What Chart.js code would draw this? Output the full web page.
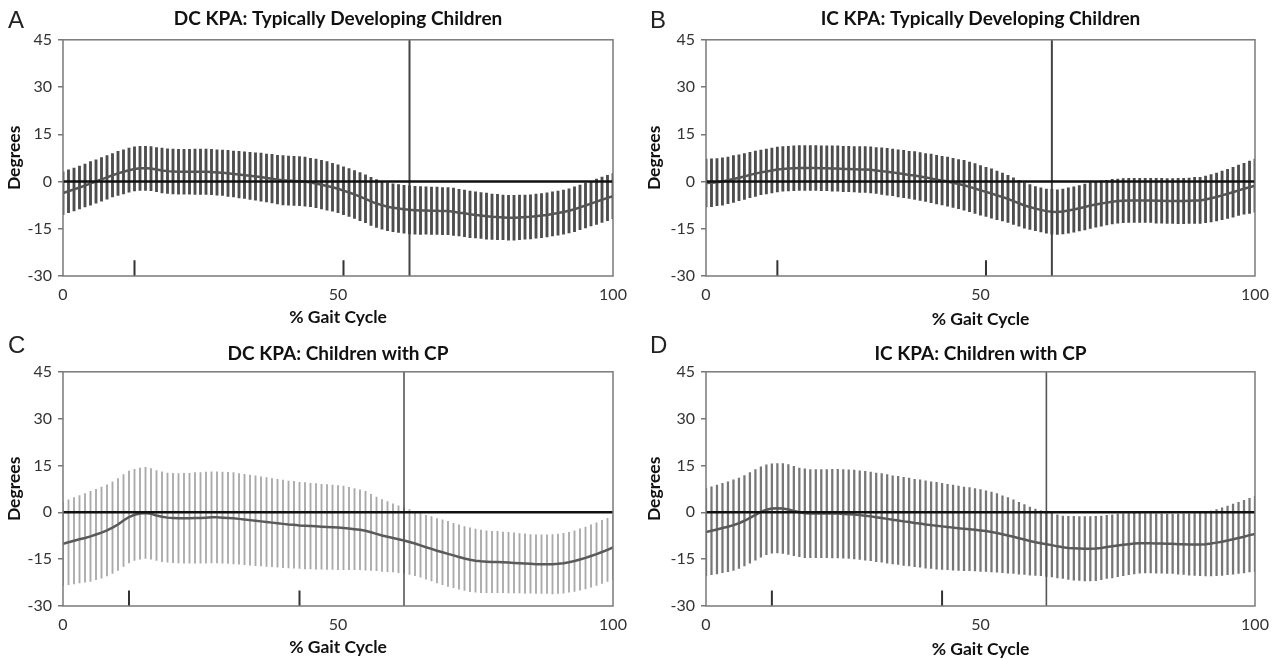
<!DOCTYPE html>
<html>
<head>
<meta charset="utf-8">
<script src="https://cdn.jsdelivr.net/npm/chart.js@4.4.1/dist/chart.umd.min.js"></script>
<style>
  body { margin: 0; background: #fff; width: 1279px; height: 659px; overflow: hidden; position: relative; }
  .panel { position: absolute; width: 640px; height: 330px; }
  .letter { position: absolute; font: 24px "Liberation Sans", Arial, sans-serif; color: #222; line-height: 1; }
</style>
</head>
<body>
<div class="panel" style="left:0;top:0"><canvas id="chartA" width="640" height="330"></canvas></div>
<div class="panel" style="left:640px;top:0"><canvas id="chartB" width="640" height="330"></canvas></div>
<div class="panel" style="left:0;top:330px"><canvas id="chartC" width="640" height="330"></canvas></div>
<div class="panel" style="left:640px;top:330px"><canvas id="chartD" width="640" height="330"></canvas></div>
<div class="letter" style="left:8px;top:8px">A</div>
<div class="letter" style="left:650px;top:8px">B</div>
<div class="letter" style="left:8px;top:333px">C</div>
<div class="letter" style="left:650px;top:333px">D</div>
<script>
// % gait cycle, one sample per percent
const gaitPct = Array.from({ length: 101 }, (_, i) => i);
const yTicks = [-30, -15, 0, 15, 30, 45];
const xTicks = [0, 50, 100];

const titles = [
  'DC KPA: Typically Developing Children',
  'IC KPA: Typically Developing Children',
  'DC KPA: Children with CP',
  'IC KPA: Children with CP'
];

// mean knee progression angle (deg)
const meanA = [
  -3.7,-3.1,-2.5,-1.9,-1.3,-0.6,0.0,0.7,1.3,2.0,
  2.6,3.1,3.6,4.0,4.2,4.2,4.1,3.8,3.5,3.3,
  3.2,3.1,3.1,3.1,3.1,3.1,3.1,3.0,2.9,2.8,
  2.6,2.4,2.2,2.0,1.8,1.6,1.4,1.1,0.9,0.6,
  0.4,0.3,0.2,0.1,0.0,-0.3,-0.6,-1.0,-1.4,-1.8,
  -2.3,-2.9,-3.5,-4.1,-4.8,-5.5,-6.3,-7.0,-7.5,-8.0,
  -8.3,-8.6,-8.8,-9.0,-9.1,-9.2,-9.2,-9.3,-9.3,-9.4,
  -9.4,-9.6,-9.9,-10.1,-10.4,-10.6,-10.8,-11.0,-11.2,-11.3,
  -11.4,-11.5,-11.5,-11.4,-11.3,-11.2,-11.0,-10.8,-10.6,-10.3,
  -10.0,-9.7,-9.3,-8.8,-8.2,-7.6,-7.0,-6.4,-5.8,-5.2,
  -4.7
];
const sdA = [
  6.8,6.8,6.8,6.8,6.8,6.9,6.9,6.9,6.9,6.9,
  7.0,7.0,7.0,7.0,7.0,7.0,7.0,7.0,7.1,7.1,
  7.1,7.1,7.1,7.1,7.2,7.2,7.2,7.2,7.2,7.2,
  7.3,7.3,7.4,7.4,7.5,7.5,7.6,7.6,7.7,7.7,
  7.8,7.8,7.8,7.8,7.8,7.7,7.7,7.7,7.7,7.6,
  7.6,7.6,7.6,7.6,7.6,7.6,7.6,7.6,7.6,7.6,
  7.6,7.6,7.6,7.6,7.6,7.6,7.5,7.5,7.5,7.5,
  7.5,7.5,7.4,7.4,7.4,7.3,7.3,7.3,7.2,7.2,
  7.1,7.1,7.1,7.1,7.0,7.0,7.0,7.0,7.0,7.0,
  7.0,7.0,7.0,7.1,7.1,7.1,7.1,7.2,7.2,7.2,
  7.2
];

const meanB = [
  -0.5,-0.4,-0.2,0.0,0.4,0.8,1.2,1.6,2.1,2.5,
  2.9,3.2,3.5,3.8,4.0,4.1,4.2,4.3,4.3,4.3,
  4.3,4.2,4.2,4.1,4.1,4.0,4.0,3.9,3.8,3.8,
  3.7,3.5,3.3,3.1,2.9,2.6,2.4,2.1,1.9,1.6,
  1.3,1.0,0.6,0.3,0.0,-0.4,-0.8,-1.2,-1.7,-2.2,
  -2.8,-3.3,-3.8,-4.4,-4.9,-5.5,-6.2,-6.9,-7.6,-8.1,
  -8.6,-9.0,-9.4,-9.6,-9.7,-9.5,-9.2,-8.9,-8.5,-8.1,
  -7.6,-7.3,-7.0,-6.7,-6.4,-6.2,-6.1,-6.0,-6.0,-6.0,
  -6.0,-6.0,-6.1,-6.1,-6.2,-6.2,-6.2,-6.2,-6.1,-6.0,
  -6.0,-5.7,-5.3,-4.9,-4.4,-3.9,-3.4,-2.8,-2.3,-1.8,
  -1.3
];
const sdB = [
  7.6,7.6,7.5,7.5,7.4,7.4,7.3,7.3,7.2,7.2,
  7.1,7.1,7.1,7.1,7.1,7.1,7.1,7.1,7.1,7.1,
  7.1,7.1,7.1,7.2,7.2,7.2,7.2,7.2,7.3,7.3,
  7.3,7.3,7.4,7.4,7.4,7.5,7.5,7.5,7.6,7.6,
  7.6,7.7,7.7,7.7,7.8,7.8,7.8,7.9,7.9,7.9,
  7.9,7.8,7.8,7.7,7.6,7.5,7.4,7.3,7.2,7.1,
  7.0,7.0,7.0,7.1,7.1,7.1,7.2,7.2,7.2,7.3,
  7.3,7.2,7.2,7.1,7.1,7.0,7.0,7.0,7.0,7.0,
  7.0,7.0,7.1,7.1,7.1,7.1,7.2,7.2,7.2,7.3,
  7.3,7.4,7.5,7.6,7.7,7.8,7.9,8.0,8.1,8.3,
  8.4
];

const meanC = [
  -10.1,-9.6,-9.1,-8.6,-8.2,-7.7,-7.1,-6.5,-5.8,-4.9,
  -3.9,-2.6,-1.5,-0.8,-0.4,-0.2,-0.5,-1.0,-1.4,-1.7,
  -1.8,-1.9,-1.9,-1.9,-1.8,-1.8,-1.7,-1.6,-1.6,-1.7,
  -1.8,-1.9,-2.1,-2.3,-2.5,-2.7,-2.9,-3.1,-3.3,-3.5,
  -3.7,-3.9,-4.0,-4.2,-4.3,-4.4,-4.5,-4.6,-4.7,-4.8,
  -4.9,-5.0,-5.2,-5.4,-5.6,-5.9,-6.4,-6.9,-7.4,-7.8,
  -8.2,-8.6,-9.0,-9.5,-10.0,-10.6,-11.2,-11.7,-12.3,-12.8,
  -13.3,-13.8,-14.3,-14.8,-15.2,-15.5,-15.7,-15.8,-15.9,-15.9,
  -16.0,-16.1,-16.2,-16.3,-16.4,-16.5,-16.6,-16.6,-16.6,-16.6,
  -16.5,-16.3,-16.0,-15.6,-15.1,-14.6,-14.0,-13.4,-12.7,-12.0,
  -11.2
];
const sdC = [
  13.4,13.6,13.8,14.0,14.2,14.4,14.5,14.6,14.6,14.7,
  14.7,14.7,14.7,14.6,14.6,14.6,14.5,14.4,14.4,14.3,
  14.3,14.3,14.4,14.4,14.5,14.5,14.6,14.6,14.6,14.6,
  14.6,14.6,14.5,14.5,14.4,14.4,14.3,14.2,14.1,14.1,
  14.0,13.9,13.9,13.8,13.8,13.7,13.7,13.6,13.6,13.5,
  13.5,13.4,13.2,13.0,12.8,12.6,12.2,11.8,11.5,11.2,
  10.9,10.7,10.5,10.4,10.3,10.2,10.2,10.3,10.3,10.4,
  10.4,10.3,10.3,10.2,10.2,10.1,10.0,9.9,9.8,9.8,
  9.7,9.7,9.6,9.5,9.5,9.4,9.4,9.4,9.4,9.5,
  9.5,9.6,9.6,9.7,9.8,9.9,10.0,10.0,10.1,10.1,
  10.2
];

const meanD = [
  -6.3,-5.9,-5.5,-5.0,-4.6,-4.1,-3.5,-2.7,-1.8,-0.8,
  0.1,0.8,1.2,1.3,1.2,0.9,0.4,0.0,-0.3,-0.4,
  -0.4,-0.4,-0.4,-0.4,-0.4,-0.5,-0.6,-0.7,-0.9,-1.1,
  -1.3,-1.6,-1.8,-2.1,-2.4,-2.6,-2.9,-3.1,-3.4,-3.6,
  -3.9,-4.1,-4.3,-4.5,-4.7,-4.9,-5.1,-5.3,-5.4,-5.6,
  -5.8,-6.0,-6.3,-6.6,-7.0,-7.4,-7.8,-8.3,-8.7,-9.2,
  -9.6,-9.9,-10.2,-10.5,-10.9,-11.2,-11.4,-11.5,-11.6,-11.7,
  -11.7,-11.6,-11.4,-11.1,-10.9,-10.6,-10.4,-10.2,-10.0,-9.9,
  -9.9,-9.9,-10.0,-10.0,-10.1,-10.1,-10.2,-10.2,-10.3,-10.3,
  -10.3,-10.2,-10.0,-9.7,-9.4,-9.0,-8.6,-8.2,-7.8,-7.3,
  -6.9
];
const sdD = [
  14.0,14.1,14.2,14.3,14.4,14.5,14.5,14.5,14.5,14.5,
  14.5,14.4,14.3,14.3,14.4,14.4,14.3,14.2,14.2,14.1,
  14.1,14.1,14.1,14.2,14.2,14.2,14.2,14.2,14.2,14.2,
  14.2,14.2,14.2,14.2,14.1,14.1,14.1,14.1,14.0,14.0,
  14.0,13.9,13.9,13.8,13.7,13.6,13.5,13.4,13.3,13.2,
  13.1,12.9,12.8,12.6,12.3,12.1,11.8,11.5,11.2,10.9,
  10.6,10.4,10.3,10.2,10.1,10.0,10.1,10.2,10.2,10.3,
  10.3,10.3,10.2,10.1,10.1,10.0,9.9,9.8,9.7,9.6,
  9.5,9.5,9.5,9.5,9.5,9.5,9.6,9.7,9.8,9.9,
  10.0,10.2,10.4,10.6,10.8,11.0,11.2,11.4,11.6,11.8,
  12.0
];

// toe-off (% gait cycle) and the two short event marks on the x axis
const toeOff = [63, 63, 62, 62];
const events = [[13, 51], [13, 51], [12, 43], [12, 43]];

const FONT = 'Lato, "Open Sans", sans-serif';

const boxAndZero = {
  id: 'boxAndZero',
  afterDatasetsDraw(chart) {
    const { ctx, chartArea: a, scales } = chart;
    const y0 = scales.y.getPixelForValue(0);
    ctx.save();
    ctx.strokeStyle = '#111';
    ctx.lineWidth = 2.5;
    ctx.beginPath();
    ctx.moveTo(a.left, y0);
    ctx.lineTo(a.right, y0);
    ctx.stroke();
    ctx.strokeStyle = '#7a7a7a';
    ctx.lineWidth = 1.5;
    ctx.strokeRect(a.left, a.top, a.right - a.left, a.bottom - a.top);
    ctx.restore();
  }
};

function makePanel(id, p) {
  const datasets = [
    {
      type: 'bar',
      data: p.mean.map((m, i) => ({ x: gaitPct[i], y: [m - p.sd[i], m + p.sd[i]] })),
      backgroundColor: p.barColor,
      barThickness: p.barW,
      order: 3
    },
    {
      type: 'line',
      data: p.mean.map((m, i) => ({ x: gaitPct[i], y: m })),
      borderColor: p.lineColor,
      borderWidth: 2.5,
      pointRadius: 0,
      tension: 0,
      order: 2
    },
    {
      type: 'line',
      data: [{ x: p.toe, y: yTicks[0] }, { x: p.toe, y: yTicks[yTicks.length - 1] }],
      borderColor: p.toeColor,
      borderWidth: p.toeW,
      pointRadius: 0,
      order: 1
    }
  ];
  p.events.forEach(e => datasets.push({
    type: 'line',
    data: [{ x: e, y: -30 }, { x: e, y: -25 }],
    borderColor: '#333',
    borderWidth: 2,
    pointRadius: 0,
    order: 1
  }));

  return new Chart(document.getElementById(id), {
    type: 'line',
    data: { datasets },
    plugins: [boxAndZero],
    options: {
      responsive: false,
      animation: false,
      layout: { padding: { left: 0, right: p.padR, top: 0, bottom: 0 } },
      plugins: {
        legend: { display: false },
        tooltip: { enabled: false },
        title: {
          display: true,
          text: p.title,
          fullSize: false,
          color: '#111',
          font: { family: FONT, size: 19, weight: 'bold' },
          padding: { top: p.tTop, bottom: p.tBot }
        }
      },
      scales: {
        x: {
          type: 'linear',
          min: xTicks[0],
          max: xTicks[xTicks.length - 1],
          offset: false,
          afterBuildTicks: s => { s.ticks = xTicks.map(v => ({ value: v })); },
          ticks: { color: '#333', font: { family: FONT, size: 16 }, padding: 9, maxRotation: 0 },
          grid: { display: false, drawTicks: false },
          border: { display: false },
          title: {
            display: true,
            text: '% Gait Cycle',
            color: '#111',
            font: { family: FONT, size: 17.5, weight: 'bold' },
            padding: { top: 0, bottom: p.xtBot }
          },
          afterFit: s => { s.height = 54; s.paddingLeft = 0; s.paddingRight = 0; }
        },
        y: {
          min: yTicks[0],
          max: yTicks[yTicks.length - 1],
          afterBuildTicks: s => { s.ticks = yTicks.map(v => ({ value: v })); },
          ticks: { color: '#333', font: { family: FONT, size: 16 }, padding: 6 },
          grid: { drawOnChartArea: false, drawTicks: true, tickLength: 5, color: '#777', lineWidth: 1.5 },
          border: { display: false },
          title: {
            display: true,
            text: 'Degrees',
            color: '#111',
            font: { family: FONT, size: 17.5, weight: 'bold' },
            padding: { top: 4, bottom: 0 }
          },
          afterFit: s => { s.width = p.axisW; s.paddingTop = 0; s.paddingBottom = 0; }
        }
      }
    }
  });
}

makePanel('chartA', {
  title: titles[0], mean: meanA, sd: sdA, toe: toeOff[0], events: events[0],
  barColor: '#4d4d4d', barW: 2.2, lineColor: '#555', toeColor: '#444', toeW: 2,
  axisW: 63, padR: 27, tTop: 7, tBot: 10, xtBot: 2
});
makePanel('chartB', {
  title: titles[1], mean: meanB, sd: sdB, toe: toeOff[1], events: events[1],
  barColor: '#4d4d4d', barW: 2.2, lineColor: '#555', toeColor: '#444', toeW: 2,
  axisW: 66, padR: 25, tTop: 7, tBot: 10, xtBot: 0
});
makePanel('chartC', {
  title: titles[2], mean: meanC, sd: sdC, toe: toeOff[2], events: events[2],
  barColor: '#aaa', barW: 1.2, lineColor: '#5a5a5a', toeColor: '#555', toeW: 1.6,
  axisW: 63, padR: 27, tTop: 12, tBot: 7, xtBot: 2
});
makePanel('chartD', {
  title: titles[3], mean: meanD, sd: sdD, toe: toeOff[3], events: events[3],
  barColor: '#777', barW: 1.6, lineColor: '#5a5a5a', toeColor: '#555', toeW: 1.6,
  axisW: 66, padR: 25, tTop: 12, tBot: 7, xtBot: 0
});
</script>
</body>
</html>
